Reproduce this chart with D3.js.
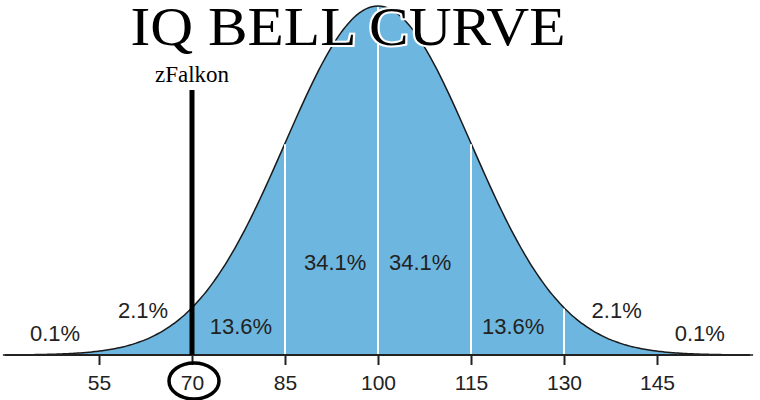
<!DOCTYPE html>
<html><head><meta charset="utf-8">
<script src="https://cdn.jsdelivr.net/npm/d3@7"></script>
<style>body{margin:0;background:#fff}</style></head>
<body><svg id="c" width="760" height="400"></svg>
<script>
const tickValues = [55, 70, 85, 100, 115, 130, 145];
const dividers = [70, 85, 100, 115, 130];
const pctLabels = ["0.1%", "2.1%", "13.6%", "34.1%", "34.1%", "13.6%", "2.1%", "0.1%"];
const pctAt = [47.9, 62.1, 77.9, 93.1, 106.8, 121.8, 138.5, 151.9];
const pctY = [0.011, 0.077, 0.032, 0.215, 0.215, 0.032, 0.077, 0.011];
const markerIQ = 70, markerName = "zFalkon";
const title = "IQ BELL CURVE";

const svg = d3.select("#c");
const x = d3.scaleLinear().domain([55, 145]).range([99, 657]);
const y = d3.scaleLinear().domain([0, 1]).range([355, 6]);
const pdf = v => Math.exp(-0.5 * ((v - 100) / 15) ** 2);
const pts = d3.range(39.5, 161, 0.5).map(v => [v, pdf(v)]);

svg.append("path").datum(pts)
  .attr("d", d3.area().x(d => x(d[0])).y0(y(0)).y1(d => y(d[1])).curve(d3.curveBasis))
  .attr("fill", "#6db6df");
svg.append("path").datum(pts)
  .attr("d", d3.line().x(d => x(d[0])).y(d => y(d[1])).curve(d3.curveBasis))
  .attr("fill", "none").attr("stroke", "#1a1a1a").attr("stroke-width", 1.5);

svg.selectAll(".div").data(dividers.filter(d => d !== markerIQ)).join("line")
  .attr("x1", d => x(d)).attr("x2", d => x(d))
  .attr("y1", y(0)).attr("y2", d => y(pdf(d)) + 1)
  .attr("stroke", "#fff").attr("stroke-width", 2);

const ax = svg.append("g").attr("transform", `translate(0,${y(0)})`)
  .call(d3.axisBottom(x).tickValues(tickValues).tickSize(10).tickPadding(10));
ax.select(".domain").remove();
ax.append("line").attr("x1", 5).attr("x2", 750).attr("stroke", "#222").attr("stroke-width", 2);
ax.selectAll(".tick line").attr("stroke", "#222").attr("stroke-width", 2);
ax.selectAll(".tick text").attr("fill", "#222").style("font", "21px 'Liberation Sans', Arial, sans-serif");

svg.selectAll(".pct").data(pctLabels).join("text")
  .attr("x", (d, i) => x(pctAt[i])).attr("y", (d, i) => y(pctY[i]) - 10)
  .attr("text-anchor", "middle").attr("fill", "#222")
  .style("font", "22px 'Liberation Sans', Arial, sans-serif").text(d => d);

svg.append("line").attr("x1", x(markerIQ)).attr("x2", x(markerIQ))
  .attr("y1", 90).attr("y2", y(0)).attr("stroke", "#000").attr("stroke-width", 5);
svg.append("ellipse").attr("cx", x(markerIQ) + 2).attr("cy", 381).attr("rx", 25).attr("ry", 18)
  .attr("fill", "none").attr("stroke", "#000").attr("stroke-width", 3.5);
svg.append("text").attr("x", x(markerIQ)).attr("y", 82).attr("text-anchor", "middle")
  .style("font", "23px 'Liberation Serif', serif").text(markerName);

svg.append("text").attr("x", 348).attr("y", 45).attr("text-anchor", "middle")
  .attr("textLength", 435).attr("lengthAdjust", "spacingAndGlyphs")
  .attr("fill", "#000").attr("stroke", "#fff").attr("stroke-width", 4).attr("paint-order", "stroke")
  .style("font", "54px 'Liberation Serif', serif").text(title);
</script></body></html>
